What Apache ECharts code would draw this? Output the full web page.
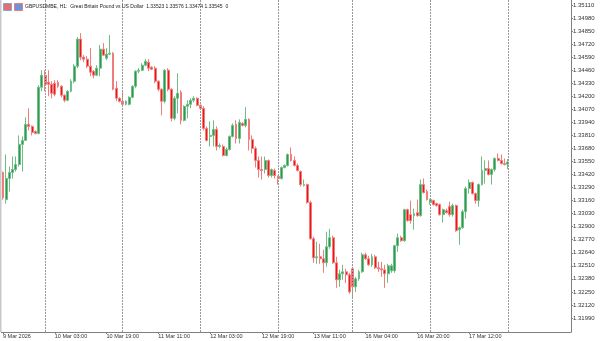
<!DOCTYPE html>
<html>
<head>
<meta charset="utf-8">
<script src="https://cdn.jsdelivr.net/npm/echarts@6/dist/echarts.min.js"></script>
<style>
html, body { margin: 0; padding: 0; background: #fff; }
#chart { width: 600px; height: 341px; }
</style>
</head>
<body>
<div id="chart"></div>
<script>
// GBPUSD H1 candles, 9 Mar 11:00 .. 18 Mar 00:00
var days = [
    ['9 Mar', 11, 23], ['10 Mar', 0, 23], ['11 Mar', 0, 23], ['12 Mar', 0, 23],
    ['13 Mar', 0, 22], ['16 Mar', 0, 23], ['17 Mar', 0, 23], ['18 Mar', 0, 0]
];
var opens = [
    1.3344, 1.3317, 1.3338, 1.3344, 1.3347, 1.3352, 1.3372, 1.3376, 1.3392, 1.3390,
    1.3385, 1.3383, 1.3429, 1.3441, 1.3434, 1.3432, 1.3433, 1.3434, 1.3430, 1.3421,
    1.3416, 1.3425, 1.3435, 1.3450, 1.3477, 1.3459, 1.3457, 1.3450, 1.3445, 1.3441,
    1.3448, 1.3467, 1.3458, 1.3462, 1.3463, 1.3428, 1.3418, 1.3415, 1.3412, 1.3412,
    1.3419, 1.3430, 1.3445, 1.3446, 1.3451, 1.3454, 1.3449, 1.3448, 1.3435, 1.3427,
    1.3415, 1.3446, 1.3427, 1.3398, 1.3418, 1.3424, 1.3396, 1.3410, 1.3412, 1.3416,
    1.3418, 1.3411, 1.3408, 1.3388, 1.3380, 1.3381, 1.3387, 1.3370, 1.3370, 1.3361,
    1.3367, 1.3380, 1.3392, 1.3378, 1.3393, 1.3391, 1.3397, 1.3377, 1.3368, 1.3356,
    1.3347, 1.3347, 1.3356, 1.3341, 1.3346, 1.3340, 1.3338, 1.3349, 1.3351, 1.3362,
    1.3356, 1.3351, 1.3345, 1.3331, 1.3332, 1.3314, 1.3278, 1.3259, 1.3260, 1.3258,
    1.3254, 1.3270, 1.3279, 1.3254, 1.3237, 1.3243, 1.3245, 1.3242, 1.3248, 1.3230,
    1.3238, 1.3245, 1.3262, 1.3258, 1.3252, 1.3260, 1.3249, 1.3248, 1.3247, 1.3243,
    1.3246, 1.3246, 1.3271, 1.3279, 1.3276, 1.3307, 1.3302, 1.3301, 1.3304, 1.3301,
    1.3332, 1.3325, 1.3314, 1.3316, 1.3313, 1.3312, 1.3302, 1.3306, 1.3310, 1.3302,
    1.3311, 1.3287, 1.3289, 1.3305, 1.3328, 1.3334, 1.3323, 1.3316, 1.3332, 1.3346,
    1.3348, 1.3342, 1.3347, 1.3358, 1.3356, 1.3353, 1.33523
];
var closes = [
    1.3319, 1.3338, 1.3344, 1.3347, 1.3352, 1.3372, 1.3376, 1.3392, 1.3390, 1.3384,
    1.3383, 1.3429, 1.3441, 1.3432, 1.3432, 1.3423, 1.3422, 1.3430, 1.3421, 1.3416,
    1.3425, 1.3435, 1.3450, 1.3477, 1.3459, 1.3457, 1.3450, 1.3444, 1.3441, 1.3448,
    1.3467, 1.3461, 1.3462, 1.3463, 1.3427, 1.3418, 1.3415, 1.3412, 1.3415, 1.3419,
    1.3430, 1.3445, 1.3446, 1.3451, 1.3455, 1.3448, 1.3447, 1.3435, 1.3427, 1.3415,
    1.3446, 1.3427, 1.3398, 1.3418, 1.3423, 1.3396, 1.3410, 1.3412, 1.3416, 1.3418,
    1.3411, 1.3408, 1.3388, 1.3376, 1.3381, 1.3387, 1.3370, 1.3371, 1.3361, 1.3367,
    1.3380, 1.3391, 1.3378, 1.3394, 1.3391, 1.3397, 1.3377, 1.3368, 1.3356, 1.3347,
    1.3346, 1.3356, 1.3341, 1.3347, 1.3341, 1.3338, 1.3349, 1.3351, 1.3362, 1.3356,
    1.3351, 1.3346, 1.3332, 1.3332, 1.3314, 1.3278, 1.3259, 1.3260, 1.3258, 1.3254,
    1.3270, 1.3279, 1.3254, 1.3237, 1.3243, 1.3245, 1.3242, 1.3225, 1.3230, 1.3238,
    1.3245, 1.3262, 1.3258, 1.3252, 1.3260, 1.3249, 1.3248, 1.3247, 1.3243, 1.3251,
    1.3251, 1.3271, 1.3279, 1.3276, 1.3307, 1.3296, 1.3296, 1.3303, 1.3301, 1.3332,
    1.3324, 1.3317, 1.3317, 1.3312, 1.3311, 1.3302, 1.3307, 1.3304, 1.3302, 1.3311,
    1.3286, 1.3289, 1.3305, 1.3328, 1.3334, 1.3323, 1.3316, 1.3332, 1.3346, 1.3348,
    1.3342, 1.3347, 1.3358, 1.3356, 1.3353, 1.3352, 1.33545
];
var lows = [
    1.3317, 1.3313, 1.3325, 1.3338, 1.3345, 1.3350, 1.3345, 1.3376, 1.3386, 1.3381,
    1.3382, 1.3382, 1.3425, 1.3425, 1.3420, 1.3418, 1.3420, 1.3428, 1.3419, 1.3414,
    1.3415, 1.3424, 1.3433, 1.3448, 1.3456, 1.3454, 1.3448, 1.3440, 1.3438, 1.3440,
    1.3440, 1.3460, 1.3456, 1.3461, 1.3426, 1.3415, 1.3414, 1.3411, 1.3411, 1.3411,
    1.3418, 1.3428, 1.3443, 1.3445, 1.3450, 1.3445, 1.3446, 1.3433, 1.3425, 1.3401,
    1.3413, 1.3425, 1.3395, 1.3396, 1.3403, 1.3392, 1.3395, 1.3398, 1.3408, 1.3414,
    1.3410, 1.3407, 1.3386, 1.3375, 1.3370, 1.3370, 1.3366, 1.3368, 1.3360, 1.3360,
    1.3366, 1.3379, 1.3373, 1.3373, 1.3390, 1.3389, 1.3366, 1.3363, 1.3349, 1.3339,
    1.3337, 1.3343, 1.3339, 1.3339, 1.3338, 1.3332, 1.3337, 1.3348, 1.3350, 1.3355,
    1.3350, 1.3345, 1.3330, 1.3330, 1.3313, 1.3277, 1.3254, 1.3253, 1.3253, 1.3244,
    1.3250, 1.3268, 1.3253, 1.3229, 1.3230, 1.3237, 1.3234, 1.3223, 1.3218, 1.3225,
    1.3236, 1.3244, 1.3257, 1.3251, 1.3250, 1.3248, 1.3245, 1.3240, 1.3229, 1.3234,
    1.3244, 1.3244, 1.3265, 1.3275, 1.3275, 1.3295, 1.3293, 1.3287, 1.3300, 1.3300,
    1.3323, 1.3316, 1.3312, 1.3311, 1.3310, 1.3301, 1.3294, 1.3303, 1.3300, 1.3300,
    1.3285, 1.3272, 1.3288, 1.3298, 1.3323, 1.3322, 1.3313, 1.3310, 1.3331, 1.3333,
    1.3341, 1.3332, 1.3345, 1.3355, 1.3352, 1.3351, 1.33474
];
var highs = [
    1.3345, 1.3362, 1.3350, 1.3360, 1.3360, 1.3381, 1.3380, 1.3399, 1.3408, 1.3391,
    1.3386, 1.3431, 1.3446, 1.3446, 1.3446, 1.3435, 1.3436, 1.3436, 1.3431, 1.3422,
    1.3426, 1.3437, 1.3452, 1.3479, 1.3483, 1.3461, 1.3460, 1.3468, 1.3446, 1.3451,
    1.3471, 1.3473, 1.3468, 1.3481, 1.3464, 1.3435, 1.3419, 1.3425, 1.3416, 1.3420,
    1.3431, 1.3446, 1.3448, 1.3453, 1.3457, 1.3457, 1.3450, 1.3450, 1.3436, 1.3428,
    1.3447, 1.3448, 1.3428, 1.3420, 1.3443, 1.3426, 1.3411, 1.3416, 1.3418, 1.3420,
    1.3419, 1.3412, 1.3410, 1.3390, 1.3395, 1.3396, 1.3390, 1.3373, 1.3372, 1.3369,
    1.3381, 1.3393, 1.3396, 1.3397, 1.3394, 1.3409, 1.3398, 1.3381, 1.3370, 1.3360,
    1.3360, 1.3360, 1.3357, 1.3348, 1.3348, 1.3341, 1.3350, 1.3352, 1.3363, 1.3369,
    1.3360, 1.3353, 1.3346, 1.3337, 1.3333, 1.3316, 1.3280, 1.3275, 1.3273, 1.3267,
    1.3285, 1.3288, 1.3281, 1.3260, 1.3247, 1.3252, 1.3248, 1.3244, 1.3250, 1.3240,
    1.3247, 1.3264, 1.3264, 1.3261, 1.3263, 1.3262, 1.3255, 1.3255, 1.3252, 1.3253,
    1.3253, 1.3272, 1.3283, 1.3281, 1.3308, 1.3308, 1.3316, 1.3308, 1.3317, 1.3337,
    1.3338, 1.3327, 1.3318, 1.3317, 1.3314, 1.3313, 1.3308, 1.3308, 1.3315, 1.3313,
    1.3312, 1.3290, 1.3307, 1.3330, 1.3337, 1.3335, 1.3324, 1.3333, 1.3360, 1.3356,
    1.3356, 1.3348, 1.3359, 1.3363, 1.3362, 1.3358, 1.33576
];

// time-axis labels (bar index -> text) and day separators
var tickIndex = [0, 16, 32, 48, 64, 80, 96, 112, 128, 144];
var tickLabels = ['9 Mar 2026', '10 Mar 03:00', '10 Mar 19:00', '11 Mar 11:00', '12 Mar 03:00',
    '12 Mar 19:00', '13 Mar 11:00', '16 Mar 04:00', '16 Mar 20:00', '17 Mar 12:00'];
var separators = ['10 Mar 00:00', '11 Mar 00:00', '12 Mar 00:00', '13 Mar 00:00',
    '16 Mar 00:00', '17 Mar 00:00', '18 Mar 00:00'];
var priceTicks = [1.35110, 1.34980, 1.34850, 1.34720, 1.34590, 1.34460, 1.34330, 1.34200,
    1.34070, 1.33940, 1.33810, 1.33680, 1.33550, 1.33420, 1.33290, 1.33160, 1.33030,
    1.32900, 1.32770, 1.32640, 1.32510, 1.32380, 1.32250, 1.32120, 1.31990];
var header = 'GBPUSDMBE, H1:  Great Britain Pound vs US Dollar  1.33523 1.33576 1.33474 1.33545  0';

var categories = [];
days.forEach(function(d) {
    for (var h = d[1]; h <= d[2]; h++) {
        categories.push(d[0] + ' ' + (h < 10 ? '0' : '') + h + ':00');
    }
});
var barCount = categories.length;
// empty room on the right of the last bar (chart shift)
for (var k = 0; categories.length < 176; k++) {
    categories.push('pad' + k);
}

var candles = [];
for (var i = 0; i < barCount; i++) {
    candles.push([opens[i], closes[i], lows[i], highs[i]]);
}

var chart = echarts.init(document.getElementById('chart'));
var option = {
    animation: false,
    backgroundColor: '#ffffff',
    title: {
        text: header,
        left: 25,
        top: 4,
        padding: 0,
        textStyle: { fontSize: 5, fontWeight: 'normal', color: '#222', fontFamily: 'Liberation Sans' }
    },
    graphic: [
        { type: 'rect', left: 0, top: 0, shape: { width: 1.5, height: 332 }, style: { fill: '#c8c8c8' } },
        { type: 'rect', left: 3, top: 3, shape: { width: 8, height: 7 }, style: { fill: '#e07070', stroke: '#8aa0d0' } },
        { type: 'rect', left: 14, top: 3, shape: { width: 8, height: 7 }, style: { fill: '#7090d8', stroke: '#e08080' } }
    ],
    grid: {
        left: 0,
        right: 29,
        top: 0,
        bottom: 9
    },
    xAxis: {
        type: 'category',
        data: categories,
        boundaryGap: true,
        axisLine: { show: true, lineStyle: { color: '#808080', width: 1 } },
        axisTick: {
            show: true,
            alignWithLabel: true,
            length: 2,
            interval: function(index) { return tickIndex.indexOf(index) >= 0; },
            lineStyle: { color: '#808080' }
        },
        axisLabel: {
            show: true,
            interval: function(index) { return tickIndex.indexOf(index) >= 0; },
            formatter: function(value, index) {
                var p = tickIndex.indexOf(index);
                return p >= 0 ? tickLabels[p] : '';
            },
            align: 'left',
            margin: 1,
            fontSize: 5.5,
            color: '#333',
            fontFamily: 'Liberation Sans'
        },
        splitLine: { show: false }
    },
    yAxis: {
        type: 'value',
        position: 'right',
        min: 1.31850,
        max: 1.35160,
        scale: true,
        axisLine: { show: true, lineStyle: { color: '#808080', width: 1 } },
        axisTick: { show: true, length: 2, customValues: priceTicks, lineStyle: { color: '#808080' } },
        axisLabel: {
            customValues: priceTicks,
            formatter: function(v) { return v.toFixed(5); },
            margin: 2,
            fontSize: 6,
            color: '#333',
            fontFamily: 'Liberation Sans'
        },
        splitLine: { show: false }
    },
    series: [{
        type: 'candlestick',
        data: candles,
        barWidth: 2.4,
        itemStyle: {
            color: '#2a9a50',
            color0: '#ee1515',
            borderColor: '#6dbd84',
            borderColor0: '#f07c7c',
            borderWidth: 1
        },
        markLine: {
            silent: true,
            symbol: 'none',
            label: { show: false },
            lineStyle: { color: '#999999', type: [2, 1], width: 1 },
            data: separators.map(function(s) { return { xAxis: s }; })
        }
    }]
};
chart.setOption(option);
</script>
</body>
</html>
